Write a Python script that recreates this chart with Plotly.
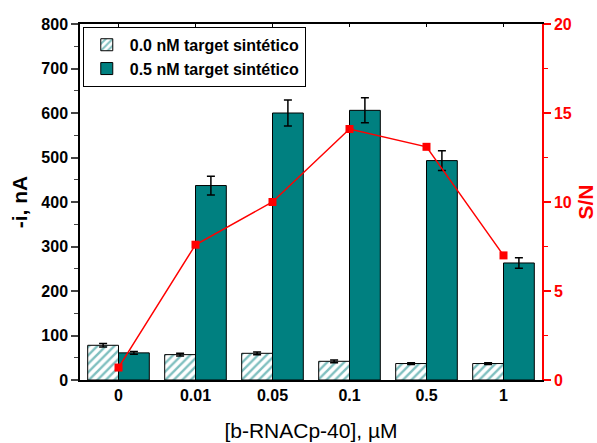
import plotly.graph_objects as go

categories = ["0", "0.01", "0.05", "0.1", "0.5", "1"]
blank_vals = [78, 57, 60, 42, 37, 37]
blank_err = [4, 3, 3, 3, 2, 2]
target_vals = [61, 437, 600, 606, 493, 263]
target_err = [3, 21, 29, 28, 22, 12]
sn_vals = [0.7, 7.6, 10.0, 14.1, 13.1, 7.0]

TEAL = "#008080"
font_fam = "Liberation Sans, Arial, sans-serif"

fig = go.Figure()
fig.add_trace(go.Bar(
    x=categories, y=blank_vals, name="<b>0.0 nM target sintético</b>",
    error_y=dict(type="data", array=blank_err, color="black", thickness=1.5, width=4),
    marker=dict(color="white", line=dict(color="black", width=1),
                pattern=dict(shape="/", fgcolor=TEAL, bgcolor="white", size=6, solidity=0.4)),
))
fig.add_trace(go.Bar(
    x=categories, y=target_vals, name="<b>0.5 nM target sintético</b>",
    error_y=dict(type="data", array=target_err, color="black", thickness=1.5, width=4),
    marker=dict(color=TEAL, line=dict(color="black", width=1)),
))
fig.add_trace(go.Scatter(
    x=categories, y=sn_vals, yaxis="y2", mode="lines+markers", showlegend=False,
    line=dict(color="red", width=1.5),
    marker=dict(symbol="square", size=8, color="red"),
))

fig.update_layout(
    width=597, height=443,
    margin=dict(l=80, r=55, t=24, b=63),
    paper_bgcolor="white", plot_bgcolor="white",
    barmode="group", bargap=0.2, bargroupgap=0,
    font=dict(family=font_fam, color="black"),
    xaxis=dict(
        type="category", range=[-0.5, 5.5], automargin=False,
        showline=True, linecolor="black", linewidth=1.5, mirror="ticks",
        ticks="inside", ticklen=3, tickwidth=1, tickcolor="black",
        tickfont=dict(size=16), tickprefix="<b>", ticksuffix="</b>",
        title=dict(text="[b-RNACp-40], µM", font=dict(size=21), standoff=20),
        showgrid=False,
    ),
    yaxis=dict(
        range=[0, 800], dtick=100, automargin=False,
        showline=True, linecolor="black", linewidth=1.5,
        ticks="outside", ticklen=7, tickwidth=1.5,
        minor=dict(dtick=50, ticks="outside", ticklen=4, tickwidth=1),
        tickfont=dict(size=16), tickprefix="<b>", ticksuffix="</b>",
        title=dict(text="<b>-i, nA</b>", font=dict(size=21), standoff=8),
        showgrid=False, zeroline=False,
    ),
    yaxis2=dict(
        overlaying="y", side="right", range=[0, 20], dtick=5, automargin=False,
        showline=True, linecolor="red", linewidth=1.5,
        ticks="outside", ticklen=7, tickwidth=1.5, tickcolor="red",
        minor=dict(dtick=2.5, ticks="outside", ticklen=4, tickwidth=1, tickcolor="red"),
        tickfont=dict(size=16, color="red"), tickprefix="<b>", ticksuffix="</b>",
        title=dict(text="<b>S/N</b>", font=dict(size=21, color="red"), standoff=11),
        showgrid=False, zeroline=False,
    ),
    legend=dict(
        x=0.006, y=0.992, xanchor="left", yanchor="top",
        bgcolor="white", bordercolor="black", borderwidth=1,
        font=dict(size=16), tracegroupgap=0, itemwidth=36,
    ),
)

fig.write_html("out.html", config={"displayModeBar": False},
               post_script="document.body.style.margin='0';document.body.style.overflow='hidden';")
